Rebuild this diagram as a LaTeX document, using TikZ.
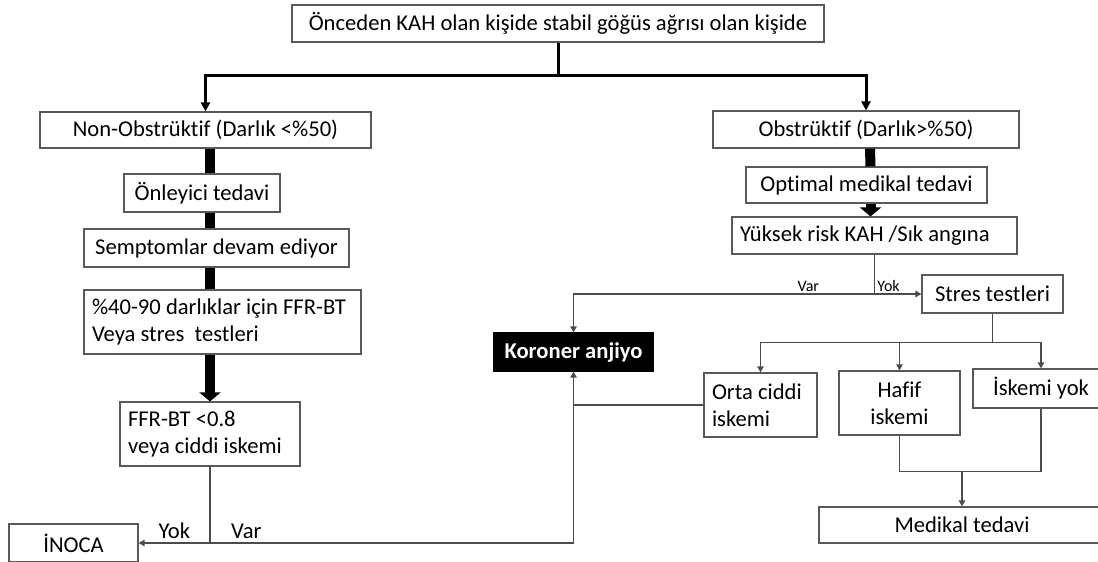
\documentclass[tikz,border=0pt]{standalone}
\usepackage{fontspec}
\setmainfont{Carlito}[Ligatures=NoCommon]
\usetikzlibrary{arrows.meta,calc}
\tikzset{
   box/.style={draw=black!65, line width=0.6pt, fill=white, inner sep=3pt,
               font=\fontsize{11.3}{13.5}\selectfont, align=center},
   lbox/.style={box, align=flush left, inner xsep=4pt},
   kbox/.style={box, draw=black, fill=black, text=white, font=\fontsize{11.3}{13.5}\selectfont\bfseries},
   wh/.style 2 args={minimum width=#1*0.5pt, minimum height=#2*0.5pt},
   lab/.style={font=\fontsize{8}{9.6}\selectfont, inner sep=1pt},
   biglab/.style={font=\fontsize{11.3}{13.5}\selectfont, inner sep=2pt}
}
\begin{document}
\begin{tikzpicture}[x=0.5pt,y=-0.5pt,
                    >={Triangle[width=3.2pt,length=3pt]},
                    thinline/.style={draw=black!70, line width=0.75pt},
                    mainline/.style={draw=black, line width=1.5pt},
                    bar/.style={draw=black, line width=5pt},
                    bararrow/.style={bar, -{Triangle[width=10.5pt,length=4.5pt]}}]
\useasboundingbox (0,0) rectangle (1098,562);
%
\node[box,wh={532}{37}] (top) at (558,23.5) {Önceden KAH olan kişide stabil göğüs ağrısı olan kişide};
%
\node[box,wh={331}{36}] (nonob) at (205.5,130) {Non-Obstrüktif (Darlık <\%50)};
\node[box,wh={156}{38}] (onl)   at (202,193)   {Önleyici tedavi};
\node[box,wh={265}{38}] (semp)  at (216.5,248) {Semptomlar devam ediyor};
\node[lbox,wh={277}{64},text width=130.5pt] (ffrbt) at (222.5,322) {\%40-90 darlıklar için FFR-BT\\Veya stres\ \ testleri};
\node[lbox,wh={180}{64},text width=82pt]    (ffr)   at (210,434)   {FFR-BT <0.8\\veya ciddi iskemi};
\node[box,wh={129}{38}] (inoca) at (73.5,543)  {İNOCA};
%
\node[box,wh={306}{37}] (obs)   at (866,129.5) {Obstrüktif (Darlık>\%50)};
\node[box,wh={241}{36}] (opt)   at (866.5,185) {Optimal medikal tedavi};
\node[lbox,wh={285}{37},text width=134.5pt] (yuk) at (874.5,235.5) {Yüksek risk KAH /Sık angına};
\node[box,wh={141}{38}] (stres) at (992.5,294) {Stres testleri};
\node[kbox,wh={159}{38}] (kor)  at (573.5,352) {Koroner anjiyo};
\node[lbox,wh={113}{64},text width=48.5pt] (orta) at (760.5,405) {Orta ciddi\\iskemi};
\node[box,wh={121}{64}] (hafif) at (899.5,403) {Hafif\\iskemi};
\node[box,wh={136}{39}] (isk)   at (1041,388.5) {İskemi yok};
\node[box,wh={286}{36}] (med)   at (962,525)   {Medikal tedavi};
%
\draw[mainline] (top.south) -- ++(0,33) coordinate (split);
\draw[mainline,-{Triangle[width=4.5pt,length=4.5pt]}] (split) -| (nonob.north);
\draw[mainline,-{Triangle[width=4.5pt,length=4.5pt]}] (split) -| (obs.north);
%
\draw[bar] (nonob.south -| ffr) -- (onl.north -| ffr);
\draw[bar] (onl.south -| ffr) -- (semp.north -| ffr);
\draw[bar] (semp.south -| ffr) -- (ffrbt.north -| ffr);
\draw[bararrow] (ffrbt.south -| ffr) -- (ffr.north);
\draw[bar] ($ (obs.south) + (4,0) $) -- ($ (opt.north) + (4,0) $);
\draw[bararrow] ($ (opt.south) + (4,0) $) -- ($ (yuk.north) + (-4,0) $);
%
\draw[thinline] (yuk.south) -- (yuk.south |- stres.west) coordinate (vy);
\draw[thinline,->] (vy) -| (kor.north) node[lab,pos=0.11,above] {Var};
\draw[thinline,->] (vy) -- (stres.west) node[lab,pos=0.3,above] {Yok};
%
\draw[thinline] (stres.south) -- ++(0,29) coordinate (sy);
\draw[thinline,->] (sy) -| (orta.north);
\draw[thinline,->] (sy) -| (hafif.north);
\draw[thinline,->] (sy) -| (isk.north);
\draw[thinline] (orta.west) -- (orta.west -| kor.south);
%
\draw[thinline] (ffr.south) -- (ffr.south |- inoca.east) coordinate (fy);
\draw[thinline,->] (fy) -- (inoca.east) node[biglab,midway,above] {Yok};
\draw[thinline,->] (fy) -| (kor.south) node[biglab,pos=0.05,above] {Var};
%
\draw[thinline] (hafif.south) -- ++(0,36) coordinate (hy) -- (hy -| isk.south) -- (isk.south);
\draw[thinline,->] (hy -| med.north) -- (med.north);
\end{tikzpicture}
\end{document}
